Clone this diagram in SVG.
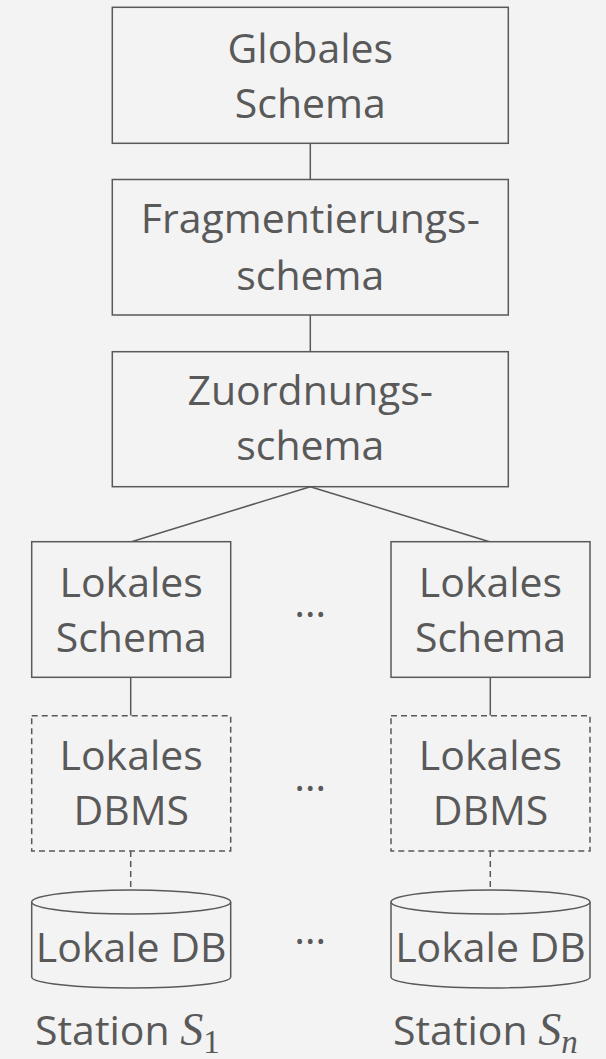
<svg xmlns="http://www.w3.org/2000/svg" width="606" height="1059" viewBox="0 0 606 1059">
<style>
.bg{fill:#f3f3f3}
.box{fill:#f3f3f3;stroke:#595959;stroke-width:1.5}
.dash{fill:#f3f3f3;stroke:#595959;stroke-width:1.5;stroke-dasharray:6 4}
.ln{fill:none;stroke:#595959;stroke-width:1.5}
.dl{fill:none;stroke:#595959;stroke-width:1.5;stroke-dasharray:6 4}
.t{font-family:"Open Sans","Noto Sans",sans-serif;font-size:41px;fill:#595959;text-anchor:middle}
.st{font-family:"Open Sans","Noto Sans",sans-serif;font-size:41px;fill:#595959}
.m{font-family:"Liberation Serif","DejaVu Serif",serif;font-style:italic;font-size:46px}
.sub{font-family:"Liberation Serif","DejaVu Serif",serif;font-size:33px}
</style>
<rect class="bg" x="0" y="0" width="606" height="1059"/>
<g id="connectors">
<line class="ln" x1="310.3" y1="143.3" x2="310.3" y2="179.5"/>
<line class="ln" x1="310.3" y1="315" x2="310.3" y2="351.7"/>
<line class="ln" x1="310.3" y1="486.7" x2="131.5" y2="541.7"/>
<line class="ln" x1="310.3" y1="486.7" x2="489.5" y2="541.7"/>
<line class="ln" x1="130.7" y1="677.3" x2="130.7" y2="715.7"/>
<line class="ln" x1="490.3" y1="677.3" x2="490.3" y2="715.7"/>
<line class="dl" x1="130.7" y1="851" x2="130.7" y2="890"/>
<line class="dl" x1="490.3" y1="851" x2="490.3" y2="890"/>
</g>
<g id="global">
<rect class="box" x="112.3" y="7.3" width="396" height="136"/>
<text class="t" x="310.3" y="63.3">Globales</text>
<text class="t" x="310.3" y="118.3">Schema</text>
</g>
<g id="fragment">
<rect class="box" x="112.3" y="179.5" width="396" height="135.5"/>
<text class="t" x="310.3" y="233.3">Fragmentierungs-</text>
<text class="t" x="310.3" y="290">schema</text>
</g>
<g id="zuordnung">
<rect class="box" x="112.3" y="351.7" width="396" height="135"/>
<text class="t" x="310.3" y="405">Zuordnungs-</text>
<text class="t" x="310.3" y="460">schema</text>
</g>
<g id="ls1">
<rect class="box" x="31.7" y="541.7" width="199" height="135.6"/>
<text class="t" x="131.2" y="596.7">Lokales</text>
<text class="t" x="131.2" y="652.3">Schema</text>
</g>
<g id="lsn">
<rect class="box" x="391" y="541.7" width="199" height="135.6"/>
<text class="t" x="490.5" y="596.7">Lokales</text>
<text class="t" x="490.5" y="652.3">Schema</text>
</g>
<g id="ld1">
<rect class="dash" x="31.7" y="715.7" width="199" height="135.3"/>
<text class="t" x="131.2" y="770">Lokales</text>
<text class="t" x="131.2" y="825">DBMS</text>
</g>
<g id="ldn">
<rect class="dash" x="391" y="715.7" width="199" height="135.3"/>
<text class="t" x="490.5" y="770">Lokales</text>
<text class="t" x="490.5" y="825">DBMS</text>
</g>
<g id="db1">
<path class="box" d="M31.7,902 L31.7,977 A99.5,11 0 0 0 230.7,977 L230.7,902"/>
<ellipse class="box" cx="131.2" cy="902" rx="99.5" ry="12"/>
<text class="t" x="131.2" y="961.7">Lokale DB</text>
</g>
<g id="dbn">
<path class="box" d="M391,902 L391,977 A99.5,11 0 0 0 590,977 L590,902"/>
<ellipse class="box" cx="490.5" cy="902" rx="99.5" ry="12"/>
<text class="t" x="490.5" y="961.7">Lokale DB</text>
</g>
<g id="dots">
<text class="t" x="310.3" y="617">…</text>
<text class="t" x="310.3" y="791">…</text>
<text class="t" x="310.3" y="944">…</text>
</g>
<g id="labels">
<text class="st" x="35" y="1045">Station <tspan class="m">S</tspan><tspan class="sub" dy="8">1</tspan></text>
<text class="st" x="393" y="1045">Station <tspan class="m">S</tspan><tspan class="sub m" dy="8" style="font-size:33px">n</tspan></text>
</g>
</svg>
